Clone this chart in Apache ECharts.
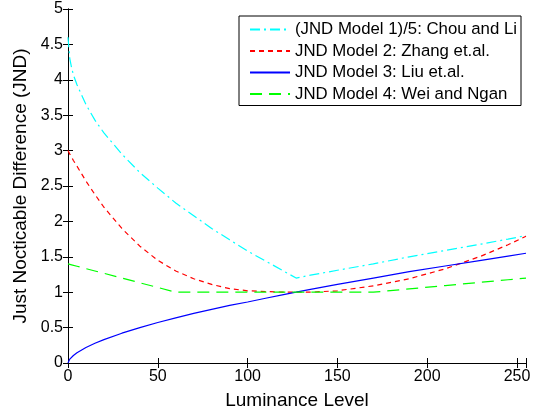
<!DOCTYPE html>
<html>
<head>
<meta charset="utf-8">
<script src="https://cdn.jsdelivr.net/npm/echarts@6/dist/echarts.min.js"></script>
<style>
html,body{margin:0;padding:0;background:#fff;}
#main{width:542px;height:415px;}
</style>
</head>
<body>
<div id="main"></div>
<script>
var xs     = [0, 1, 2, 3, 5, 10, 15, 20, 30, 40, 50, 60, 70, 80, 90, 100, 110, 120, 127, 135, 150, 170, 190, 210, 230, 245, 255];
var chou   = [4.60, 4.30, 4.17, 4.07, 3.93, 3.65, 3.43, 3.25, 2.95, 2.69, 2.47, 2.26, 2.08, 1.90, 1.74, 1.58, 1.44, 1.30, 1.20, 1.24, 1.31, 1.40, 1.50, 1.59, 1.68, 1.75, 1.80];
var zhang  = [3.00, 2.95, 2.91, 2.86, 2.78, 2.57, 2.38, 2.20, 1.90, 1.65, 1.45, 1.30, 1.19, 1.11, 1.05, 1.02, 1.01, 1.00, 1.00, 1.00, 1.02, 1.09, 1.19, 1.33, 1.51, 1.67, 1.79];
var liu    = [0.00, 0.055, 0.083, 0.106, 0.144, 0.218, 0.278, 0.330, 0.421, 0.500, 0.572, 0.638, 0.700, 0.758, 0.813, 0.862, 0.915, 0.966, 1.00, 1.04, 1.11, 1.20, 1.29, 1.37, 1.45, 1.51, 1.55];
var wei    = [1.40, 1.393, 1.387, 1.38, 1.367, 1.333, 1.30, 1.267, 1.20, 1.133, 1.067, 1.00, 1.00, 1.00, 1.00, 1.00, 1.00, 1.00, 1.00, 1.00, 1.00, 1.00, 1.047, 1.094, 1.141, 1.176, 1.20];
var names  = ['(JND Model 1)/5: Chou and Li', 'JND Model 2: Zhang et.al.', 'JND Model 3: Liu et.al.', 'JND Model 4: Wei and Ngan'];
var xTicks = [0, 50, 100, 150, 200, 250];
var yTicks = [0, 0.5, 1, 1.5, 2, 2.5, 3, 3.5, 4, 4.5, 5];

function pairs(ys){ return xs.map(function(x,i){ return [x, ys[i]]; }); }

var FONT = 'Liberation Sans, Arial, sans-serif';
var chart = echarts.init(document.getElementById('main'));
var axisCommon = {
  axisLine:{show:true, lineStyle:{color:'#000', width:1}},
  axisTick:{show:true, inside:true, length:5, lineStyle:{color:'#000'}},
  splitLine:{show:false}
};
chart.setOption({
  animation:false,
  backgroundColor:'#fff',
  grid:{left:68, right:16, top:9, bottom:46, containLabel:false},
  legend:{
    data:names, orient:'vertical', right:21, top:16,
    backgroundColor:'#fff', borderColor:'#000', borderWidth:1, borderRadius:0,
    padding:[5,4,3,10], itemGap:4.5, itemWidth:40, itemHeight:16,
    itemStyle:{opacity:0},
    textStyle:{fontFamily:FONT, fontSize:16.8, color:'#000'}
  },
  xAxis:[
    Object.assign({type:'value', min:0, max:255, interval:50, position:'bottom',
      axisLabel:{color:'#000', fontSize:16, fontFamily:FONT, margin:6,
        formatter:function(v){ return xTicks.indexOf(v)>=0 ? String(v) : ''; }},
      name:'Luminance Level', nameLocation:'middle', nameGap:28,
      nameTextStyle:{color:'#000', fontSize:19, fontFamily:FONT}}, axisCommon),
    Object.assign({type:'value', min:0, max:255, interval:50, position:'top',
      axisLabel:{show:false}}, axisCommon)
  ],
  yAxis:[
    Object.assign({type:'value', min:0, max:5, interval:0.5, position:'left',
      axisLabel:{color:'#000', fontSize:16, fontFamily:FONT, margin:5,
        formatter:function(v){ return yTicks.indexOf(v)>=0 ? String(v) : ''; }},
      name:'Just Nocticable Difference (JND)', nameLocation:'middle', nameGap:32,
      nameTextStyle:{color:'#000', fontSize:19, fontFamily:FONT}}, axisCommon),
    Object.assign({type:'value', min:0, max:5, interval:0.5, position:'right',
      axisLabel:{show:false}}, axisCommon)
  ],
  series:[
    {name:names[0], type:'line', data:pairs(chou), symbol:'none', smooth:false,
      lineStyle:{color:'#00ffff', width:1.2, type:[10,4,2,4]}, itemStyle:{color:'#00ffff'}},
    {name:names[1], type:'line', data:pairs(zhang), symbol:'none',
      lineStyle:{color:'#ff0000', width:1.2, type:[5,4]}, itemStyle:{color:'#ff0000'}},
    {name:names[2], type:'line', data:pairs(liu), symbol:'none',
      lineStyle:{color:'#0000ff', width:1.2, type:'solid'}, itemStyle:{color:'#0000ff'}},
    {name:names[3], type:'line', data:pairs(wei), symbol:'none',
      lineStyle:{color:'#00ff00', width:1.2, type:[12,7]}, itemStyle:{color:'#00ff00'}}
  ]
});
</script>
</body>
</html>
